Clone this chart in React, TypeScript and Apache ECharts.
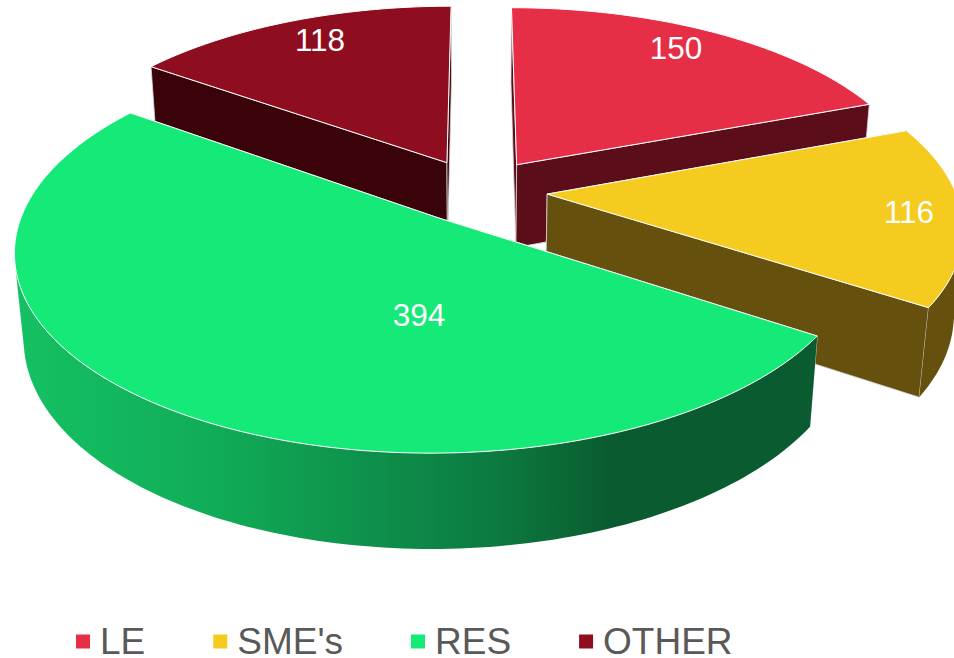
import React, { useEffect, useRef } from "react";
import * as echarts from "echarts";

const categories = ["LE", "SME's", "RES", "OTHER"];
const values = [150, 116, 394, 118];
const topColors = ["#E62E47", "#F5CB1F", "#15E978", "#8E0E20"];
const wallColors = ["#5B0E1A", "#65510D", "#0A5C30", "#3A0309"];
const paintOrder = [2, 3, 4, 1];
const labelPoints = [
  [676, 48],
  [909, 212],
  [419, 315],
  [320, 40],
];

const W = 954;
const H = 658;
const CX = 478;
const CY = 190.6;
const DIST = 5.66;
const FOCAL = 2309;
const SIN_T = 0.4635;
const COS_T = 0.886;
const DEPTH = 0.237;
const EXPLODE = 0.17;

const total = values.reduce((a, b) => a + b, 0);
const starts = values.map((_, i) => (values.slice(0, i).reduce((a, b) => a + b, 0) / total) * Math.PI * 2);
const ends = values.map((v, i) => starts[i] + (v / total) * Math.PI * 2);

function project(X: number, Y: number, z: number): number[] {
  const w = DIST - Y * COS_T + z * SIN_T;
  return [CX + (FOCAL * X) / w, CY + (FOCAL * (Y * SIN_T + z * COS_T)) / w];
}

function sliceGeometry(i: number) {
  const a0 = starts[i];
  const a1 = ends[i];
  const mid = (a0 + a1) / 2;
  const ox = Math.sin(mid) * EXPLODE;
  const oy = -Math.cos(mid) * EXPLODE;
  const n = Math.max(2, Math.ceil((a1 - a0) / 0.02));
  const angles: number[] = [];
  for (let k = 0; k <= n; k++) angles.push(a0 + ((a1 - a0) * k) / n);
  const point = (a: number, z: number) => project(ox + Math.sin(a), oy - Math.cos(a), z);
  const camY = DIST * COS_T;
  const faces = (a: number) =>
    -(ox + Math.sin(a)) * Math.sin(a) - (camY - (oy - Math.cos(a))) * Math.cos(a) > 0;
  const visible = angles.filter(faces);
  return {
    apexTop: project(ox, oy, 0),
    apexBottom: project(ox, oy, DEPTH),
    arcTop: angles.map((a) => point(a, 0)),
    arcBottom: angles.map((a) => point(a, DEPTH)),
    wallOutline: visible.length > 1
      ? [...visible.map((a) => point(a, 0)), ...[...visible].reverse().map((a) => point(a, DEPTH))]
      : null,
  };
}

function wallFill(i: number) {
  if (categories[i] !== "RES") return wallColors[i];
  return new echarts.graphic.LinearGradient(0, 0, 1, 0, [
    { offset: 0, color: "#15C163" },
    { offset: 0.25, color: "#10AC57" },
    { offset: 0.6, color: "#0C7A41" },
    { offset: 0.74, color: wallColors[i] },
    { offset: 1, color: wallColors[i] },
  ]);
}

function makeRender(i: number) {
  return () => {
    const g = sliceGeometry(i);
    const edge = { stroke: "#D9D9D9", lineWidth: 0.8 };
    const first = g.arcTop[0];
    const last = g.arcTop[g.arcTop.length - 1];
    const firstB = g.arcBottom[0];
    const lastB = g.arcBottom[g.arcBottom.length - 1];
    const children: any[] = [
      {
        type: "polygon",
        shape: { points: [g.apexTop, first, firstB, g.apexBottom] },
        style: { fill: wallColors[i], ...edge },
      },
      {
        type: "polygon",
        shape: { points: [g.apexTop, last, lastB, g.apexBottom] },
        style: { fill: wallColors[i], ...edge },
      },
    ];
    if (g.wallOutline) {
      children.push({
        type: "polygon",
        shape: { points: g.wallOutline },
        style: { fill: wallFill(i) },
      });
    }
    children.push(
      {
        type: "polygon",
        shape: { points: [g.apexTop, ...g.arcTop] },
        style: { fill: topColors[i], stroke: "#FFFFFF", lineWidth: 1 },
      },
      {
        type: "text",
        style: {
          text: String(values[i]),
          x: labelPoints[i][0],
          y: labelPoints[i][1],
          fill: "#FFFFFF",
          font: '31.5px "Liberation Sans", Arial, sans-serif',
          textAlign: "center",
          textVerticalAlign: "middle",
        },
      }
    );
    return { type: "group", children };
  };
}

export default function App() {
  const ref = useRef<HTMLDivElement>(null);
  useEffect(() => {
    document.body.style.margin = "0";
    const chart = echarts.init(ref.current!, null, { renderer: "svg" });
    chart.setOption({
      animation: false,
      legend: {
        left: 71,
        top: 618,
        icon: "rect",
        itemWidth: 14,
        itemHeight: 14,
        itemGap: 68,
        selectedMode: false,
        data: categories,
        textStyle: {
          color: "#595959",
          fontSize: 37,
          lineHeight: 34,
          fontFamily: '"Liberation Sans", Arial, sans-serif',
          padding: [0, 0, 0, 5],
        },
      },
      series: categories.map((name, i) => ({
        type: "custom",
        name,
        coordinateSystem: "none",
        z: paintOrder[i],
        silent: true,
        itemStyle: { color: topColors[i] },
        data: [[values[i]]],
        renderItem: makeRender(i),
      })),
    });
    return () => chart.dispose();
  }, []);
  return <div ref={ref} style={{ width: W, height: H, overflow: "hidden" }} />;
}
